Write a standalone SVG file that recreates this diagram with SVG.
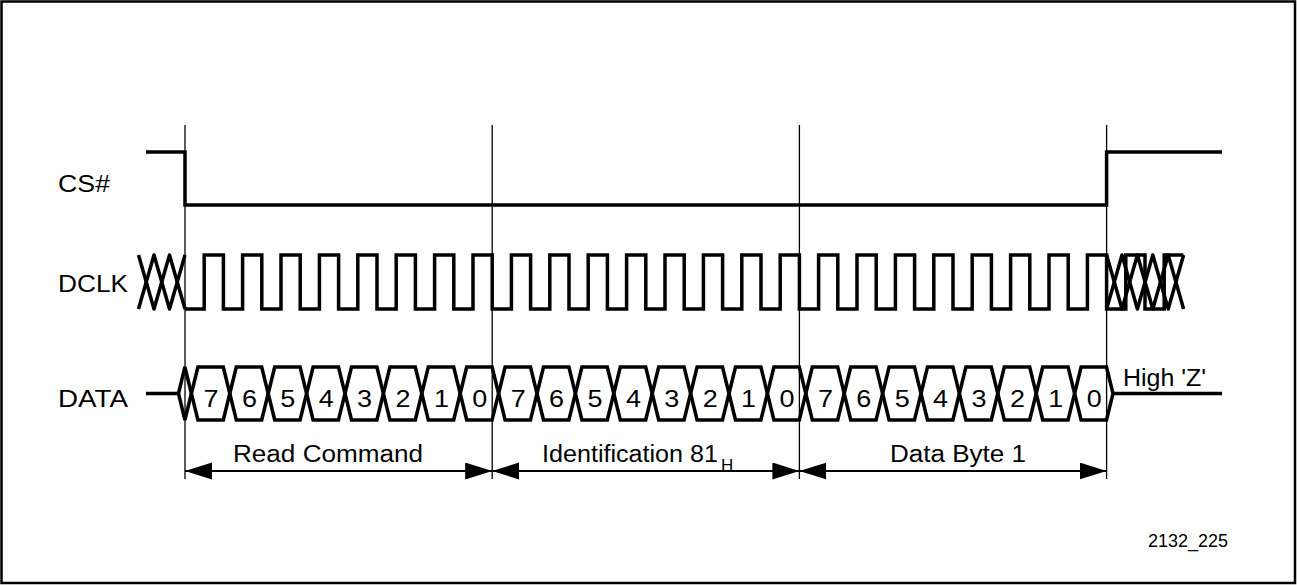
<svg xmlns="http://www.w3.org/2000/svg" xmlns:xlink="http://www.w3.org/1999/xlink" width="1297" height="585" viewBox="0 0 1297 585">
<style>
.sig{fill:none;stroke:#000;stroke-width:3.5;stroke-linejoin:miter}
.zz{fill:none;stroke:#000;stroke-width:3.5;stroke-linejoin:round}
.guide{fill:none;stroke:#000;stroke-width:1.3}
.dim{fill:none;stroke:#000;stroke-width:2}
.t{font-family:"Liberation Sans",Arial,Helvetica,sans-serif;font-size:23.3px;fill:#000}
.d{font-family:"Liberation Sans",Arial,Helvetica,sans-serif;font-size:24px;fill:#000;text-anchor:middle}
.sub{font-family:"Liberation Sans",Arial,Helvetica,sans-serif;font-size:17px;fill:#000}
.small{font-family:"Liberation Sans",Arial,Helvetica,sans-serif;font-size:19px;fill:#000}
</style>
<defs>
<polygon id="hex" class="sig" points="0,26.5 6.5,0 31.9,0 38.4,26.5 31.9,53 6.5,53"/>
<marker id="arr" markerUnits="userSpaceOnUse" markerWidth="28" markerHeight="18" refX="27" refY="8.5" orient="auto-start-reverse" viewBox="0 0 28 18">
<path d="M0,0 L27,8.5 L0,17 z" fill="#000"/>
</marker>
</defs>
<rect x="1.5" y="1.5" width="1293.5" height="581.5" fill="#fff" stroke="#000" stroke-width="2.5"/>

<g id="guides">
<line class="guide" x1="185" y1="125" x2="185" y2="479"/>
<line class="guide" x1="492.2" y1="125" x2="492.2" y2="479"/>
<line class="guide" x1="799.4" y1="125" x2="799.4" y2="479"/>
<line class="guide" x1="1106.6" y1="125" x2="1106.6" y2="479"/>
</g>

<g id="cs">
<text class="t" x="58" y="192" textLength="52" lengthAdjust="spacingAndGlyphs">CS#</text>
<path class="sig" d="M146,152 H185 V205 H1106.6 V152 H1222"/>
</g>

<g id="dclk">
<text class="t" x="58" y="292" textLength="70" lengthAdjust="spacingAndGlyphs">DCLK</text>
<polyline class="zz" points="138.5,255 154,309 169.5,255 185,309"/>
<polyline class="zz" points="138.5,309 154,255 169.5,309 185,255"/>
<path class="sig" d="M185,309 h19.2 V255 h19.2 V309 h19.2 V255 h19.2 V309 h19.2 V255 h19.2 V309 h19.2 V255 h19.2 V309 h19.2 V255 h19.2 V309 h19.2 V255 h19.2 V309 h19.2 V255 h19.2 V309 h19.2 V255 h19.2 V309 h19.2 V255 h19.2 V309 h19.2 V255 h19.2 V309 h19.2 V255 h19.2 V309 h19.2 V255 h19.2 V309 h19.2 V255 h19.2 V309 h19.2 V255 h19.2 V309 h19.2 V255 h19.2 V309 h19.2 V255 h19.2 V309 h19.2 V255 h19.2 V309 h19.2 V255 h19.2 V309 h19.2 V255 h19.2 V309 h19.2 V255 h19.2 V309 h19.2 V255 h19.2 V309 h19.2 V255 h19.2 V309 h19.2 V255 h19.2 V309 h19.2 V255 h19.2 V309 h19.2 V255 h19.2 V309 h19.2 V255 h19.2"/>
<polyline class="zz" points="1106.6,255 1122,309 1137.4,255 1152.8,309 1168.2,255 1183.6,309"/>
<polyline class="zz" points="1106.6,309 1122,255 1137.4,309 1152.8,255 1168.2,309 1183.6,255"/>
</g>

<g id="data">
<text class="t" x="58" y="406.5" textLength="70" lengthAdjust="spacingAndGlyphs">DATA</text>
<path class="sig" d="M146,393.5 H178.5"/>
<polygon class="sig" points="178.5,393.5 184.9,367 191.4,393.5 184.9,420"/>
<use xlink:href="#hex" x="191.4" y="367"/>
<use xlink:href="#hex" x="229.8" y="367"/>
<use xlink:href="#hex" x="268.2" y="367"/>
<use xlink:href="#hex" x="306.6" y="367"/>
<use xlink:href="#hex" x="345" y="367"/>
<use xlink:href="#hex" x="383.4" y="367"/>
<use xlink:href="#hex" x="421.8" y="367"/>
<use xlink:href="#hex" x="460.2" y="367"/>
<use xlink:href="#hex" x="498.6" y="367"/>
<use xlink:href="#hex" x="537" y="367"/>
<use xlink:href="#hex" x="575.4" y="367"/>
<use xlink:href="#hex" x="613.8" y="367"/>
<use xlink:href="#hex" x="652.2" y="367"/>
<use xlink:href="#hex" x="690.6" y="367"/>
<use xlink:href="#hex" x="729" y="367"/>
<use xlink:href="#hex" x="767.4" y="367"/>
<use xlink:href="#hex" x="805.8" y="367"/>
<use xlink:href="#hex" x="844.2" y="367"/>
<use xlink:href="#hex" x="882.6" y="367"/>
<use xlink:href="#hex" x="921" y="367"/>
<use xlink:href="#hex" x="959.4" y="367"/>
<use xlink:href="#hex" x="997.8" y="367"/>
<use xlink:href="#hex" x="1036.2" y="367"/>
<use xlink:href="#hex" x="1074.6" y="367"/>
<path class="sig" d="M1113,393.5 H1222"/>
<text class="d" x="211" y="406.5" textLength="15" lengthAdjust="spacingAndGlyphs">7</text>
<text class="d" x="249.4" y="406.5" textLength="15" lengthAdjust="spacingAndGlyphs">6</text>
<text class="d" x="287.8" y="406.5" textLength="15" lengthAdjust="spacingAndGlyphs">5</text>
<text class="d" x="326.2" y="406.5" textLength="15" lengthAdjust="spacingAndGlyphs">4</text>
<text class="d" x="364.6" y="406.5" textLength="15" lengthAdjust="spacingAndGlyphs">3</text>
<text class="d" x="403" y="406.5" textLength="15" lengthAdjust="spacingAndGlyphs">2</text>
<text class="d" x="441.4" y="406.5" textLength="15" lengthAdjust="spacingAndGlyphs">1</text>
<text class="d" x="479.8" y="406.5" textLength="15" lengthAdjust="spacingAndGlyphs">0</text>
<text class="d" x="518.2" y="406.5" textLength="15" lengthAdjust="spacingAndGlyphs">7</text>
<text class="d" x="556.6" y="406.5" textLength="15" lengthAdjust="spacingAndGlyphs">6</text>
<text class="d" x="595" y="406.5" textLength="15" lengthAdjust="spacingAndGlyphs">5</text>
<text class="d" x="633.4" y="406.5" textLength="15" lengthAdjust="spacingAndGlyphs">4</text>
<text class="d" x="671.8" y="406.5" textLength="15" lengthAdjust="spacingAndGlyphs">3</text>
<text class="d" x="710.2" y="406.5" textLength="15" lengthAdjust="spacingAndGlyphs">2</text>
<text class="d" x="748.6" y="406.5" textLength="15" lengthAdjust="spacingAndGlyphs">1</text>
<text class="d" x="787" y="406.5" textLength="15" lengthAdjust="spacingAndGlyphs">0</text>
<text class="d" x="825.4" y="406.5" textLength="15" lengthAdjust="spacingAndGlyphs">7</text>
<text class="d" x="863.8" y="406.5" textLength="15" lengthAdjust="spacingAndGlyphs">6</text>
<text class="d" x="902.2" y="406.5" textLength="15" lengthAdjust="spacingAndGlyphs">5</text>
<text class="d" x="940.6" y="406.5" textLength="15" lengthAdjust="spacingAndGlyphs">4</text>
<text class="d" x="979" y="406.5" textLength="15" lengthAdjust="spacingAndGlyphs">3</text>
<text class="d" x="1017.4" y="406.5" textLength="15" lengthAdjust="spacingAndGlyphs">2</text>
<text class="d" x="1055.8" y="406.5" textLength="15" lengthAdjust="spacingAndGlyphs">1</text>
<text class="d" x="1094.2" y="406.5" textLength="15" lengthAdjust="spacingAndGlyphs">0</text>
<text class="t" x="1123" y="385.5" textLength="83" lengthAdjust="spacingAndGlyphs">High 'Z'</text>
</g>

<g id="connectors">
<line class="dim" x1="185" y1="471" x2="492.2" y2="471" marker-start="url(#arr)" marker-end="url(#arr)"/>
<line class="dim" x1="492.2" y1="471" x2="799.4" y2="471" marker-start="url(#arr)" marker-end="url(#arr)"/>
<line class="dim" x1="799.4" y1="471" x2="1106.6" y2="471" marker-start="url(#arr)" marker-end="url(#arr)"/>
</g>

<g id="labels">
<text class="t" x="233" y="462" textLength="190" lengthAdjust="spacingAndGlyphs">Read Command</text>
<text class="t" x="542" y="462" textLength="176" lengthAdjust="spacingAndGlyphs">Identification 81</text>
<text class="sub" x="721" y="471">H</text>
<text class="t" x="890" y="462" textLength="136" lengthAdjust="spacingAndGlyphs">Data Byte 1</text>
<text class="small" x="1148" y="547" textLength="80" lengthAdjust="spacingAndGlyphs">2132_225</text>
</g>
</svg>
